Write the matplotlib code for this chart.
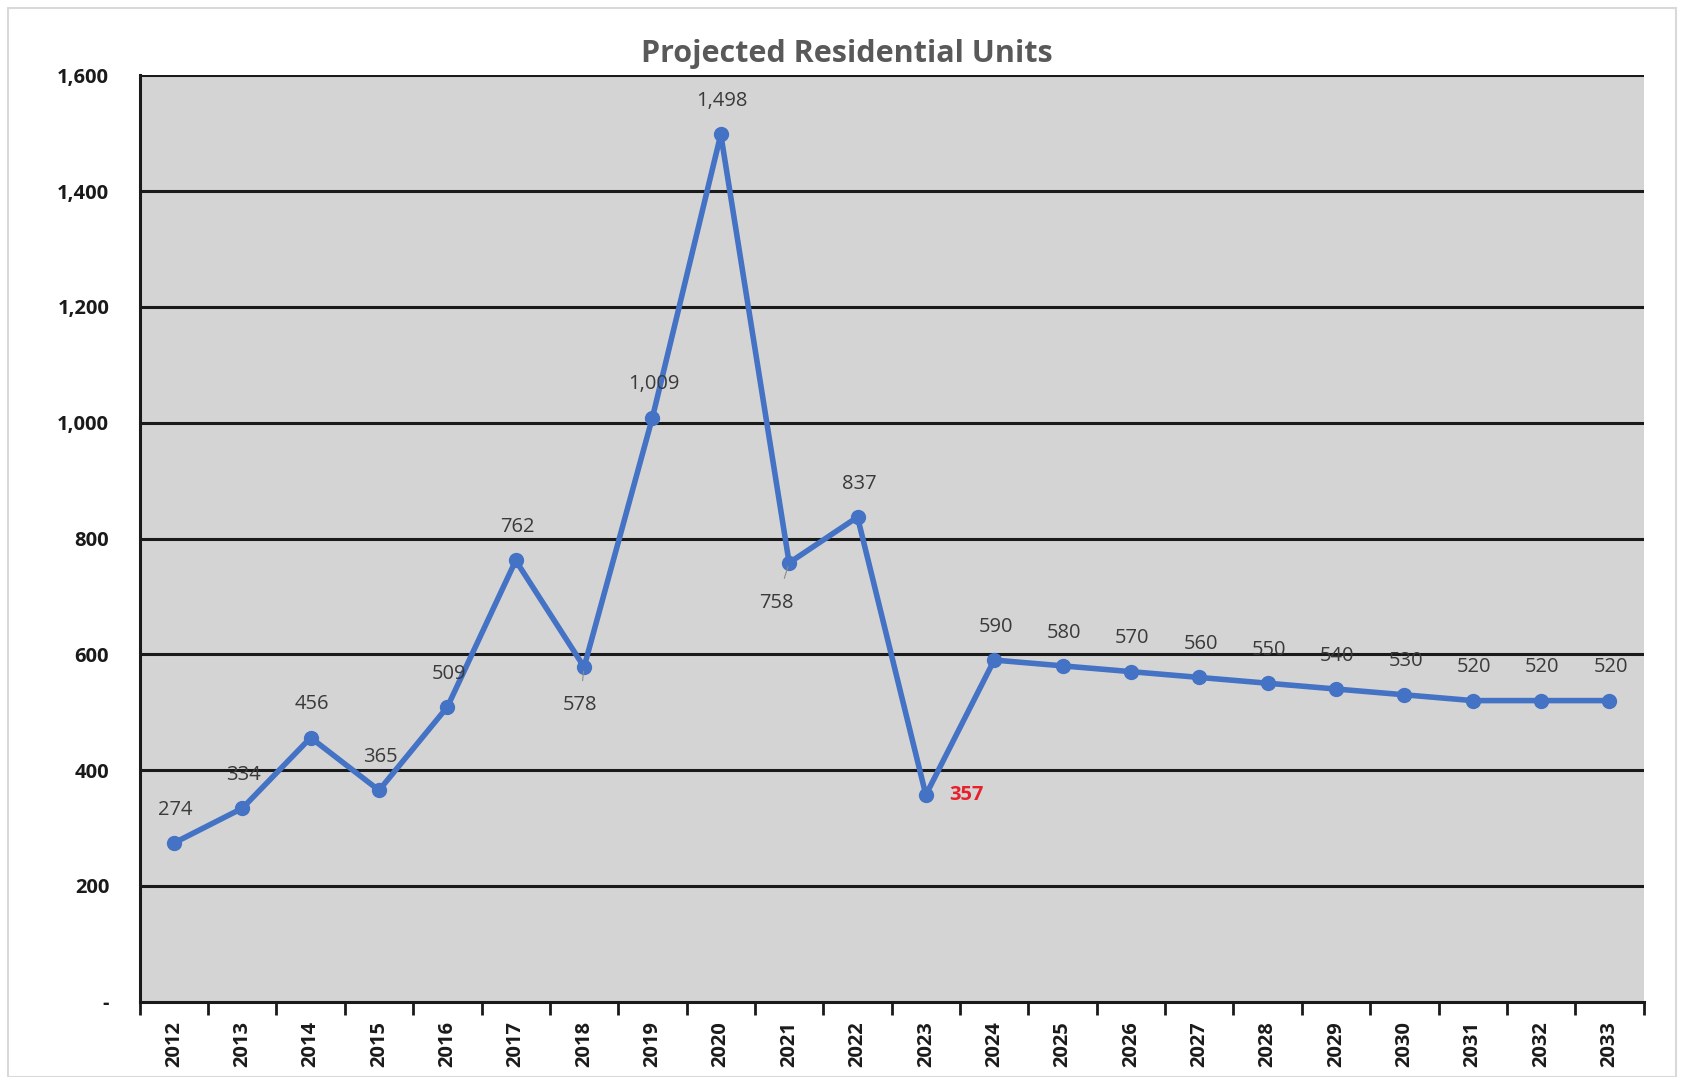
import matplotlib.pyplot as plt
from matplotlib.patches import Rectangle

years = [str(y) for y in range(2012, 2034)]
units = [274, 334, 456, 365, 509, 762, 578, 1009, 1498, 758, 837,
         357, 590, 580, 570, 560, 550, 540, 530, 520, 520, 520]
yticks = [0, 200, 400, 600, 800, 1000, 1200, 1400, 1600]
ytick_labels = ['-', '200', '400', '600', '800', '1,000', '1,200', '1,400', '1,600']

plt.rcParams['font.family'] = ['Open Sans', 'DejaVu Sans']

fig = plt.figure(figsize=(16.84, 10.77), dpi=100)
ax = fig.add_axes([0.083, 0.070, 0.893, 0.860])
ax.set_facecolor('#d4d4d4')

# outer chart border
fig.patches.append(Rectangle((0.005, 0.0), 0.99, 0.993, transform=fig.transFigure,
                             fill=False, edgecolor='#d9d9d9', linewidth=1.5))

x = list(range(len(years)))
ax.plot(x, units, color='#4472C4', linewidth=4, marker='o', markersize=10, zorder=3)

# gridlines
for v in yticks[1:]:
    ax.axhline(v, color='#1a1a1a', linewidth=2.2, zorder=1)

ax.set_xlim(-0.5, len(years) - 0.5)
ax.set_ylim(0, 1600)
ax.set_yticks(yticks)
ax.set_yticklabels(ytick_labels, fontsize=14.5, fontweight='bold', color='#1a1a1a')
ax.tick_params(axis='y', length=0, pad=22)
for lab in ax.get_yticklabels():
    lab.set_horizontalalignment('right')

ax.set_xticks(x)
ax.set_xticklabels(years, rotation=90, fontsize=14.5, fontweight='bold', color='#1a1a1a')
ax.set_xticks([i - 0.5 for i in range(len(years) + 1)], minor=True)
ax.tick_params(axis='x', which='major', length=0, pad=14)
ax.tick_params(axis='x', which='minor', length=9, width=2, color='#1a1a1a', direction='out')

for s in ['top', 'right']:
    ax.spines[s].set_visible(False)
ax.spines['left'].set_linewidth(2.2)
ax.spines['bottom'].set_linewidth(2.2)
ax.spines['left'].set_color('#1a1a1a')
ax.spines['bottom'].set_color('#1a1a1a')

# data labels
lab_kw = dict(textcoords='offset points', ha='center', va='center',
              fontsize=14.5, color='#3a3a3a')
for i, v in enumerate(units):
    txt = f'{v:,}'
    if years[i] == '2018':
        ax.annotate(txt, (i, v), xytext=(-3, -27), **lab_kw,
                    arrowprops=dict(arrowstyle='-', color='#8c8c8c', lw=0.8,
                                    shrinkA=8, shrinkB=3))
    elif years[i] == '2021':
        ax.annotate(txt, (i, v), xytext=(-9, -29), **lab_kw,
                    arrowprops=dict(arrowstyle='-', color='#8c8c8c', lw=0.8,
                                    shrinkA=9, shrinkB=3))
    elif years[i] == '2023':
        ax.annotate(txt, (i, v), xytext=(29, 0), textcoords='offset points',
                    ha='center', va='center', fontsize=14.5, color='#e8202a',
                    fontweight='bold')
    else:
        ax.annotate(txt, (i, v), xytext=(1, 24), **lab_kw)

fig.text(0.503, 0.950, 'Projected Residential Units', ha='center', va='center',
         fontsize=22, fontweight='bold', color='#595959')

fig.savefig('out.png', dpi=100)
